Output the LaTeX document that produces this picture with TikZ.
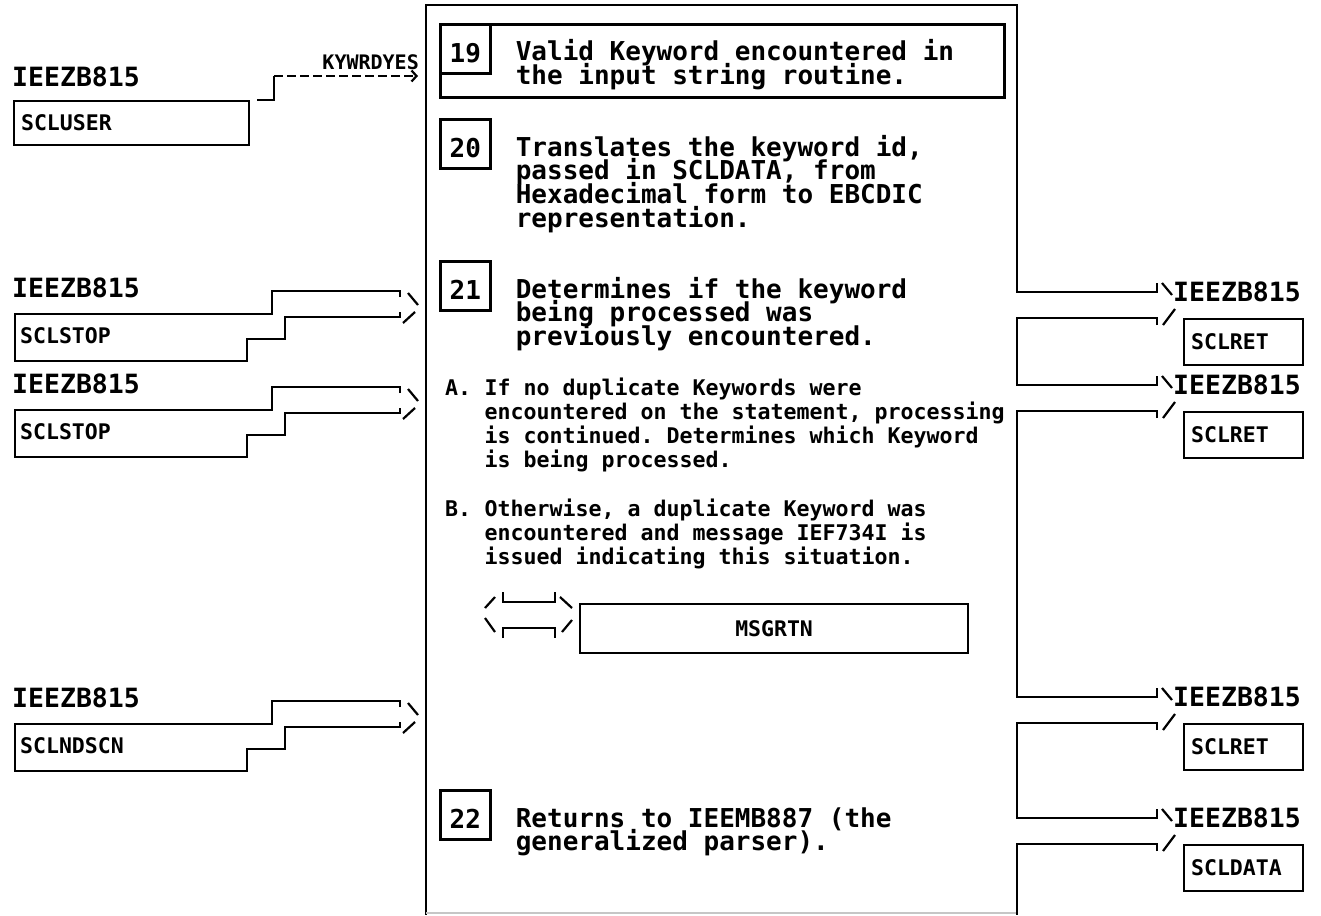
\documentclass[tikz,border=0pt]{standalone}
\usepackage{fontspec}
\setmonofont{DejaVu Sans Mono}
\usetikzlibrary{positioning, calc, arrows.meta}

\newcommand{\hipostrut}{\rule{0pt}{22pt}}
\newcommand{\itemstrut}{\rule{0pt}{18pt}}
\lineskiplimit=-50pt

\begin{document}
\begin{tikzpicture} [
    x=1pt, y=-1pt,
    every node/.style={inner sep=0pt},
    line/.style={draw, line width=2.2pt},
    numbox/.style={rectangle, draw, line width=2.6pt, minimum width=50pt, minimum height=49pt, text height=28pt, text depth=0pt, anchor=north west, font=\ttfamily\bfseries\fontsize{26}{24}\selectfont},
    frame19/.style={rectangle, draw, line width=2.6pt, minimum width=564pt, minimum height=73pt, anchor=north west},
    desc/.style={align=left, anchor=north west, font=\ttfamily\bfseries\fontsize{26}{23.8}\selectfont},
    item/.style={align=left, anchor=north west, font=\ttfamily\bfseries\fontsize{21.6}{24.2}\selectfont},
    itemlbl/.style={anchor=base west, font=\ttfamily\bfseries\fontsize{21.6}{24.2}\selectfont},
    modname/.style={anchor=west, font=\ttfamily\bfseries\fontsize{26.5}{28}\selectfont},
    modlabel/.style={anchor=west, font=\ttfamily\bfseries\fontsize{21.5}{24}\selectfont},
    modbox/.style={rectangle, draw, line width=2.2pt, anchor=north west, inner xsep=7pt, align=left, font=\ttfamily\bfseries\fontsize{21.5}{24}\selectfont}
]
    \useasboundingbox (0,0) rectangle (1321,915);

    % Process box
    \draw[line] (1157,283) -- (1157,292) -- (1017,292) -- (1017,5) -- (426,5) -- (426,915);
    \draw[gray!45, line width=2pt] (426,913) -- (1017,913);

    % Steps
    \node[frame19] (b19) at (439,23) {};
    \node[numbox] (n19) at (b19.north west) {19};
    \node[desc] (t19) at ([xshift=24pt, yshift=24pt]n19.base east) {\hipostrut Valid Keyword encountered in\\the input string routine.};

    \node[numbox] (n20) at (439,118) {20};
    \node[desc] (t20) at ([xshift=24pt, yshift=24pt]n20.base east) {\hipostrut Translates the keyword id,\\passed in SCLDATA, from\\Hexadecimal form to EBCDIC\\representation.};

    \node[numbox] (n21) at (439,260) {21};
    \node[desc] (t21) at ([xshift=24pt, yshift=24pt]n21.base east) {\hipostrut Determines if the keyword\\being processed was\\previously encountered.};

    \node[itemlbl] (ia) at (445,395) {A.};
    \node[item] (ta) at ([xshift=13pt, yshift=18pt]ia.base east) {\itemstrut If no duplicate Keywords were\\encountered on the statement, processing\\is continued. Determines which Keyword\\is being processed.};
    \node[itemlbl] (ib) at (445,516) {B.};
    \node[item] (tb) at ([xshift=13pt, yshift=18pt]ib.base east) {\itemstrut Otherwise, a duplicate Keyword was\\encountered and message IEF734I is\\issued indicating this situation.};

    \node[modbox, minimum width=388pt, minimum height=49pt, align=center, text width=374pt] (msgrtn) at (579,603) {MSGRTN};
    \draw[line] (503,592) -- (503,602) -- (555,602) -- (555,592);
    \draw[line] (485,608) -- (495,597);
    \draw[line] (560,597) -- (572,608);
    \draw[line] (503,638) -- (503,628) -- (555,628) -- (555,638);
    \draw[line] (485,618) -- (495,632);
    \draw[line] (562,632) -- (572,620);

    \node[numbox] (n22) at (439,789) {22};
    \node[desc] (t22) at ([xshift=24pt, yshift=24pt]n22.base east) {\hipostrut Returns to IEEMB887 (the\\generalized parser).};

    % Input from caller
    \node[modname] (l1mod) at (12,77) {IEEZB815};
    \node[modbox, minimum width=235pt, minimum height=44pt, text width=221pt] (scluser) at (13,100) {SCLUSER};
    \node[modlabel, anchor=east, font=\ttfamily\bfseries\fontsize{20}{22}\selectfont] (kywrd) at (419,62) {KYWRDYES};
    \coordinate (l1bend) at (274,100);
    \coordinate (l1end) at (418,76);
    \draw[line] ([xshift=7pt]scluser.north east) -- (l1bend) -- (l1bend |- l1end);
    \draw[line, dash pattern=on 9pt off 4pt, -{Straight Barb[length=5pt, width=11pt]}] (l1bend |- l1end) -- (l1end);

    % Calls on the left
    \foreach \ypos/\name/\lbl in {291/l2/SCLSTOP, 387/l3/SCLSTOP, 701/l4/SCLNDSCN} {
        \node[modname] (\name mod) at (12,\ypos-3) {IEEZB815};
        \node[modlabel] (\name lbl) at (20,\ypos+45) {\lbl};
        \draw[line] (400,\ypos+6) -- (400,\ypos) -- (272,\ypos) -- (272,\ypos+23) -- (15,\ypos+23) -- (15,\ypos+70) -- (247,\ypos+70) -- (247,\ypos+48) -- (285,\ypos+48) -- (285,\ypos+26) -- (400,\ypos+26) -- (400,\ypos+21);
        \draw[line] (408,\ypos+2) -- (418,\ypos+14);
        \draw[line] (403,\ypos+32) -- (415,\ypos+21);
    }

    % Calls on the right
    \foreach \ya/\yb in {292/385, 385/697, 697/818}
        \draw[line] (1157,\ya+33) -- (1157,\ya+26) -- (1017,\ya+26) -- (1017,\yb) -- (1157,\yb) -- (1157,\yb-9);
    \draw[line] (1157,851) -- (1157,844) -- (1017,844) -- (1017,915);
    \foreach \ypos/\name/\lbl in {292/r1/SCLRET, 385/r2/SCLRET, 697/r3/SCLRET, 818/r4/SCLDATA} {
        \draw[line] (1162,\ypos-9) -- (1172,\ypos+3);
        \draw[line] (1163,\ypos+33) -- (1175,\ypos+17);
        \node[modname] (\name mod) at (1173,\ypos) {IEEZB815};
        \node[modbox, minimum width=119pt, minimum height=46pt, text width=105pt] (\name box) at (1183,\ypos+26) {\lbl};
    }

\end{tikzpicture}
\end{document}
